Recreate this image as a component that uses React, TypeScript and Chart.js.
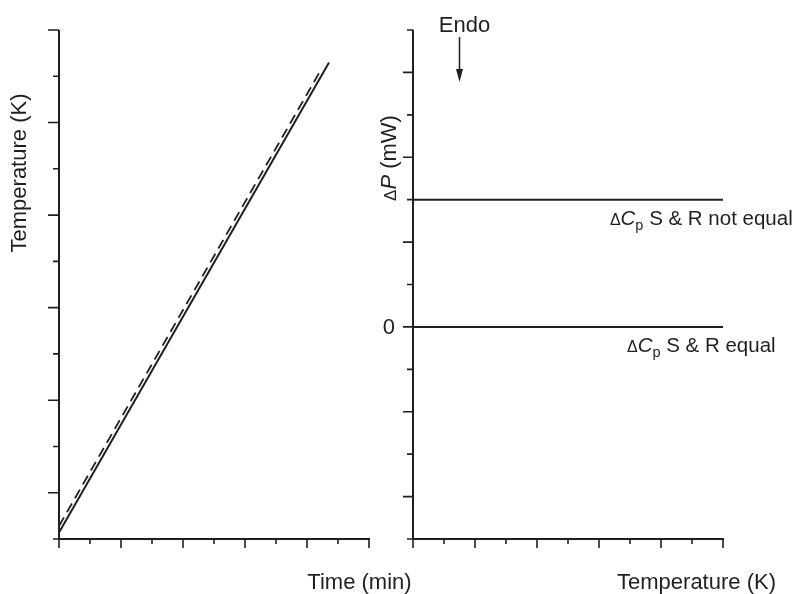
import React, { useEffect, useRef } from 'react';
import { Chart, registerables } from 'chart.js';

Chart.register(...registerables);

const INK = '#231f20';
const FAM = '"Liberation Sans", Arial, Helvetica, sans-serif';

// ---- Left panel: Temperature (K) vs Time (min) ----
const timeSolid = [0, 8.71];
const tempSolid = [-0.43, 4.65];
const timeDashed = [0, 8.45];
const tempDashed = [-0.36, 4.57];
const leftXTicks = [0, 1, 2, 3, 4, 5, 6, 7, 8, 9, 10];
const leftYTicks = [-0.5, 0, 0.5, 1, 1.5, 2, 2.5, 3, 3.5, 4, 4.5, 5];

// ---- Right panel: ΔP (mW) vs Temperature (K) ----
const tempRight = [0, 10];
const powerNotEqual = [3, 3];
const powerEqual = [0, 0];
const rightXTicks = [0, 1, 2, 3, 4, 5, 6, 7, 8, 9, 10];
const rightYTicks = [-5, -4, -3, -2, -1, 0, 1, 2, 3, 4, 5, 6, 7];
const rightYTickLabelValues = [0];
const rightYTickLabels = ['0'];
const endoAtTemp = 1.5;

type Part = { t: string; font: string; dy?: number };

function drawRich(ctx: CanvasRenderingContext2D, parts: Part[], cx: number, baseY: number) {
  let w = 0;
  for (const p of parts) {
    ctx.font = p.font;
    w += ctx.measureText(p.t).width;
  }
  let x = cx - w / 2;
  ctx.textAlign = 'left';
  ctx.textBaseline = 'alphabetic';
  for (const p of parts) {
    ctx.font = p.font;
    ctx.fillText(p.t, x, baseY + (p.dy || 0));
    x += ctx.measureText(p.t).width;
  }
}

function drawAxes(chart: any, xTicks: number[], yTicks: number[], isMajorX: (v: number) => boolean, isMajorY: (v: number) => boolean, yLong: number, yShort: number) {
  const { ctx, scales } = chart;
  const xs = scales.x;
  const ys = scales.y;
  ctx.save();
  ctx.strokeStyle = INK;
  ctx.lineWidth = 2;
  ctx.lineCap = 'butt';
  const left = xs.getPixelForValue(xs.min);
  const right = xs.getPixelForValue(xs.max);
  const bottom = ys.getPixelForValue(ys.min);
  const top = ys.getPixelForValue(ys.max);
  ctx.beginPath();
  ctx.moveTo(left, top);
  ctx.lineTo(left, bottom);
  ctx.moveTo(left - 1, bottom);
  ctx.lineTo(right + 1, bottom);
  ctx.stroke();
  ctx.lineWidth = 1.6;
  ctx.beginPath();
  for (const v of xTicks) {
    const px = xs.getPixelForValue(v);
    const len = isMajorX(v) ? 9 : 5;
    ctx.moveTo(px, bottom);
    ctx.lineTo(px, bottom + len);
  }
  for (const v of yTicks) {
    const py = ys.getPixelForValue(v);
    const len = isMajorY(v) ? yLong : yShort;
    ctx.moveTo(left, py);
    ctx.lineTo(left - len, py);
  }
  ctx.stroke();
  ctx.restore();
}

const leftPlugin = {
  id: 'leftDecor',
  afterDraw(chart: any) {
    const { ctx, chartArea } = chart;
    drawAxes(chart, leftXTicks, leftYTicks, (v) => v % 2 === 0, (v) => Number.isInteger(v), 11, 6);
    ctx.save();
    ctx.fillStyle = INK;
    ctx.save();
    ctx.translate(chartArea.left - 41, chartArea.top + 143);
    ctx.rotate(-Math.PI / 2);
    drawRich(ctx, [{ t: 'Temperature (K)', font: `22px ${FAM}` }], 0, 8);
    ctx.restore();
    drawRich(ctx, [{ t: 'Time (min)', font: `22px ${FAM}` }], chartArea.right - 9.5, chartArea.bottom + 50);
    ctx.restore();
  },
};

const rightPlugin = {
  id: 'rightDecor',
  afterDraw(chart: any) {
    const { ctx, chartArea, scales } = chart;
    const xs = scales.x;
    const ys = scales.y;
    drawAxes(chart, rightXTicks, rightYTicks, (v) => v % 2 === 0, (v) => v % 2 === 0, 10, 6);
    ctx.save();
    ctx.fillStyle = INK;
    ctx.strokeStyle = INK;
    ctx.save();
    ctx.translate(chartArea.left - 25, chartArea.top + 128);
    ctx.rotate(-Math.PI / 2);
    drawRich(ctx, [
      { t: '\u0394', font: `17px ${FAM}` },
      { t: 'P', font: `italic 22px ${FAM}` },
      { t: ' (mW)', font: `22px ${FAM}` },
    ], 0, 8);
    ctx.restore();
    ctx.font = `22px ${FAM}`;
    ctx.textAlign = 'right';
    ctx.textBaseline = 'middle';
    rightYTickLabelValues.forEach((v, i) => {
      ctx.fillText(rightYTickLabels[i], chartArea.left - 18, ys.getPixelForValue(v) + 1);
    });
    drawRich(ctx, [{ t: 'Temperature (K)', font: `22px ${FAM}` }], chartArea.right - 26.5, chartArea.bottom + 50);
    const ex = xs.getPixelForValue(endoAtTemp);
    drawRich(ctx, [{ t: 'Endo', font: `22px ${FAM}` }], ex + 5, chartArea.top + 2);
    ctx.lineWidth = 1.5;
    ctx.beginPath();
    ctx.moveTo(ex, chartArea.top + 7);
    ctx.lineTo(ex, chartArea.top + 42);
    ctx.stroke();
    ctx.beginPath();
    ctx.moveTo(ex - 3.5, chartArea.top + 39);
    ctx.lineTo(ex + 3.5, chartArea.top + 39);
    ctx.lineTo(ex, chartArea.top + 52);
    ctx.closePath();
    ctx.fill();
    const ax = xs.getPixelForValue(9.3);
    const lbl = (rest: string, val: number) =>
      drawRich(ctx, [
        { t: '\u0394', font: `16px ${FAM}` },
        { t: 'C', font: `italic 20.5px ${FAM}` },
        { t: 'p', font: `14.5px ${FAM}`, dy: 5 },
        { t: rest, font: `20.5px ${FAM}` },
      ], ax, ys.getPixelForValue(val) + 25);
    lbl(' S & R not equal', powerNotEqual[0]);
    lbl(' S & R equal', powerEqual[0]);
    ctx.restore();
  },
};

function baseOptions(padding: any, xMin: number, xMax: number, yMin: number, yMax: number) {
  return {
    responsive: false,
    animation: false as const,
    layout: { padding },
    plugins: { legend: { display: false }, tooltip: { enabled: false }, title: { display: false } },
    elements: { point: { radius: 0 } },
    scales: {
      x: { type: 'linear' as const, display: false, min: xMin, max: xMax },
      y: { type: 'linear' as const, display: false, min: yMin, max: yMax },
    },
  };
}

export default function App() {
  const leftRef = useRef<HTMLCanvasElement>(null);
  const rightRef = useRef<HTMLCanvasElement>(null);

  useEffect(() => {
    const left = new Chart(leftRef.current!, {
      type: 'line',
      data: {
        datasets: [
          {
            data: timeSolid.map((t, i) => ({ x: t, y: tempSolid[i] })),
            borderColor: INK,
            borderWidth: 2,
            pointRadius: 0,
          },
          {
            data: timeDashed.map((t, i) => ({ x: t, y: tempDashed[i] })),
            borderColor: INK,
            borderWidth: 1.8,
            borderDash: [10, 6],
            pointRadius: 0,
          },
        ],
      },
      options: baseOptions({ left: 59, right: 431, top: 30, bottom: 55 }, 0, 10, -0.5, 5) as any,
      plugins: [leftPlugin],
    });
    const right = new Chart(rightRef.current!, {
      type: 'line',
      data: {
        datasets: [
          {
            data: tempRight.map((t, i) => ({ x: t, y: powerNotEqual[i] })),
            borderColor: INK,
            borderWidth: 2,
            pointRadius: 0,
          },
          {
            data: tempRight.map((t, i) => ({ x: t, y: powerEqual[i] })),
            borderColor: INK,
            borderWidth: 2,
            pointRadius: 0,
          },
        ],
      },
      options: baseOptions({ left: 413, right: 77, top: 30, bottom: 55 }, 0, 10, -5, 7) as any,
      plugins: [rightPlugin],
    });
    return () => {
      left.destroy();
      right.destroy();
    };
  }, []);

  return (
    <div style={{ position: 'absolute', left: 0, top: 0, width: 800, height: 594, background: '#fff' }}>
      <canvas ref={leftRef} width={800} height={594} style={{ position: 'absolute', left: 0, top: 0, display: 'block' }} />
      <canvas ref={rightRef} width={800} height={594} style={{ position: 'absolute', left: 0, top: 0, display: 'block' }} />
    </div>
  );
}
